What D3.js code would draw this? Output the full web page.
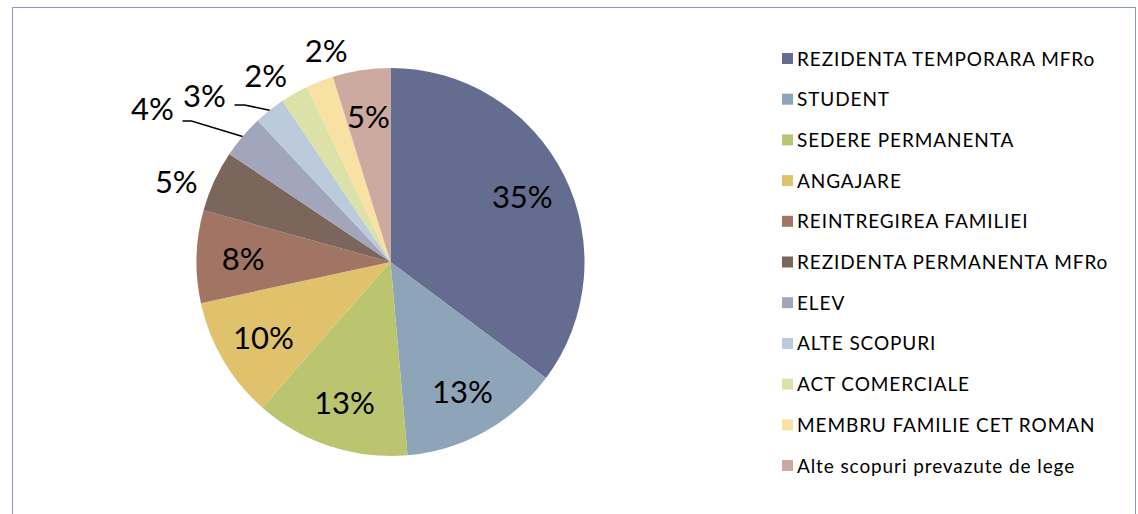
<!DOCTYPE html>
<html>
<head>
<meta charset="utf-8">
<script src="https://d3js.org/d3.v7.min.js"></script>
<style>
  body { margin: 0; background: #fff; }
  text { font-family: Lato, "Open Sans", sans-serif; fill: #000; }
</style>
</head>
<body>
<svg width="1138" height="514"></svg>
<script>
// slices, clockwise from 12 o'clock
const categories = ["REZIDENTA TEMPORARA MFRo", "STUDENT", "SEDERE PERMANENTA", "ANGAJARE",
  "REINTREGIREA FAMILIEI", "REZIDENTA PERMANENTA MFRo", "ELEV", "ALTE SCOPURI",
  "ACT COMERCIALE", "MEMBRU FAMILIE CET ROMAN", "Alte scopuri prevazute de lege"];
const shares = [35.2, 13.4, 12.9, 10.1, 7.7, 5.1, 3.6, 2.6, 2.3, 2.3, 4.8];
const colors = ["#646d8f", "#8ea4b8", "#bbc46e", "#dfc26b", "#a27463", "#7c655b",
  "#a1a6bd", "#bccbdb", "#dce2a7", "#f8e1a2", "#cdaaa0"];

var svg = d3.select("svg");

// chart frame
svg.append("rect")
  .attr("x", 12.5).attr("y", 7.5)
  .attr("width", 1123).attr("height", 520)
  .attr("fill", "none").attr("stroke", "#8d9ac0");

var cx = 390.5, cy = 262, r = 194;
var g = svg.append("g").attr("transform", "translate(" + cx + "," + cy + ")");

var pie = d3.pie().sort(null).value(d => d);
var arcs = pie(shares);
var arc = d3.arc().innerRadius(0).outerRadius(r);

g.selectAll("path")
  .data(arcs)
  .enter()
  .append("path")
  .attr("d", arc)
  .attr("fill", (d, i) => colors[i]);

// label placement: inside at 0.76r, a few small slices outside
// [radius factor, angle shift in degrees] for the outside ones
var outside = { 5: [1.18, -4], 6: [1.46, -7.5], 7: [1.29, -9.5], 8: [1.16, -4], 9: [1.14, 4.5] };
function polar(rad, a) { return [rad * Math.sin(a), -rad * Math.cos(a)]; }

arcs.forEach(function(d, i) {
  var mid = (d.startAngle + d.endAngle) / 2;
  var p;
  if (outside[i]) {
    p = polar(r * outside[i][0], mid + outside[i][1] * Math.PI / 180);
  } else {
    p = polar(r * 0.76, mid);
  }
  g.append("text")
    .attr("x", p[0]).attr("y", p[1])
    .attr("text-anchor", "middle")
    .attr("dominant-baseline", "central")
    .style("font-size", "31px")
    .text(Math.round(shares[i]) + "%");
});

// leader lines for ELEV and ALTE SCOPURI
[[6, -208, -141, -199], [7, -156, -157, -146]].forEach(function(l) {
  var d = arcs[l[0]];
  var mid = (d.startAngle + d.endAngle) / 2;
  var e = polar(r, mid);
  g.append("path")
    .attr("d", "M" + l[1] + "," + l[2] + "H" + l[3] + "L" + e[0] + "," + e[1])
    .attr("fill", "none").attr("stroke", "#000").attr("stroke-width", 1.5);
});

// legend
var ly = d3.scalePoint().domain(categories).range([58, 465]);
var leg = svg.append("g");
leg.selectAll("rect")
  .data(categories)
  .enter()
  .append("rect")
  .attr("x", 782).attr("y", d => ly(d) - 5)
  .attr("width", 11).attr("height", 11)
  .attr("fill", (d, i) => colors[i]);
leg.selectAll("text")
  .data(categories)
  .enter()
  .append("text")
  .attr("x", 797).attr("y", d => ly(d))
  .attr("dominant-baseline", "central")
  .style("font-size", "19px")
  .style("letter-spacing", "0.9px")
  .text(d => d);
</script>
</body>
</html>
